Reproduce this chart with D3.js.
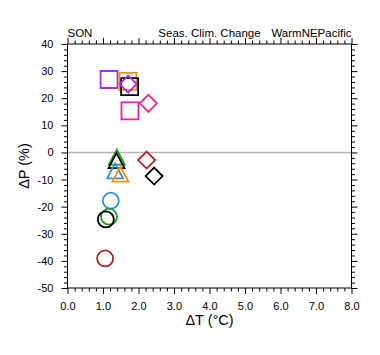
<!DOCTYPE html>
<html><head><meta charset="utf-8">
<script src="https://cdn.jsdelivr.net/npm/d3@7"></script>
<style>body{margin:0;background:#fff;} svg{display:block;font-family:"Liberation Sans",Arial,sans-serif;}</style>
</head><body>
<script>
// Data
const markerShape = ["square","square","square","square","diamond","diamond","diamond","diamond",
                     "triangle","triangle","triangle","triangle","circle","circle","circle","circle"];
const markerColor = ["purple","orange","black","pink","purple","pink","red","black",
                     "green","black","blue","orange","blue","green","black","red"];
const dT = [1.17,1.70,1.75,1.76, 1.71,2.28,2.23,2.44, 1.39,1.38,1.34,1.49, 1.22,1.17,1.08,1.06];
const dP = [26.9,26.2,24.3,15.3, 25.2,18.1,-2.8,-8.7, -1.7,-3.0,-6.8,-8.0, -17.8,-23.7,-24.7,-39.1];
const xTicks = [0,1,2,3,4,5,6,7,8];
const yTicks = [40,30,20,10,0,-10,-20,-30,-40,-50];
const titles = {left:"SON", center:"Seas. Clim. Change", right:"WarmNEPacific"};
const xTitle = "ΔT (°C)";
const yTitle = "ΔP (%)";

const palette = {purple:"#a030f0", orange:"#ff8c00", black:"#000000", pink:"#f0209a",
                 red:"#b22222", green:"#229922", blue:"#2a8ff0"};

const W=380,H=355;
const L=67.5,R=351.5,T=44,B=288;
const x=d3.scaleLinear().domain([0,8]).range([L,R]);
const y=d3.scaleLinear().domain([-50,40]).range([B,T]);

const svg=d3.select("body").append("svg").attr("width",W).attr("height",H);

// zero line
svg.append("line").attr("x1",L).attr("x2",R).attr("y1",y(0)).attr("y2",y(0))
  .attr("stroke","#b4b4b4").attr("stroke-width",1.6);

// ticks
const xMinor=d3.range(0,8.001,0.2).filter(v=>Math.abs(v-Math.round(v))>1e-6);
const yMinor=d3.range(-50,40.001,2).filter(v=>v%10!==0);
function axis(gen,scale,major,minor,tx,ty,labels,pad){
  const g=svg.append("g").attr("transform",`translate(${tx},${ty})`);
  g.call(gen(scale).tickValues(minor).tickSize(3.5).tickFormat("")).call(s=>s.select(".domain").remove());
  const g2=svg.append("g").attr("transform",`translate(${tx},${ty})`);
  g2.call(gen(scale).tickValues(major).tickSize(6).tickPadding(pad||0)
     .tickFormat(labels?labels:""))
    .call(s=>s.select(".domain").remove());
  g2.selectAll("text").attr("font-size",11).attr("fill","#000").attr("font-family","Liberation Sans, Arial, sans-serif");
  [g,g2].forEach(s=>s.selectAll("line").attr("stroke","#000").attr("stroke-width",1));
  return g2;
}
axis(d3.axisBottom,x,xTicks,xMinor,0,B,d=>d.toFixed(1),8);
axis(d3.axisTop,x,xTicks,xMinor,0,T,null);
axis(d3.axisLeft,y,yTicks,yMinor,L,0,d=>d,8);
axis(d3.axisRight,y,yTicks,yMinor,R,0,null);

svg.append("rect").attr("x",L).attr("y",T).attr("width",R-L).attr("height",B-T)
  .attr("fill","none").attr("stroke","#000").attr("stroke-width",1);

// markers
function shapePath(s){
  if(s==="square"){const h=8.5;return `M${-h},${-h}H${h}V${h}H${-h}Z`;}
  if(s==="diamond"){const h=8.5;return `M0,${-h}L${h},0L0,${h}L${-h},0Z`;}
  if(s==="triangle"){return `M0,-7.5L8,7.5L-8,7.5Z`;}
  return null;
}
const pts=dT.map((v,i)=>({x:v,y:dP[i],s:markerShape[i],c:palette[markerColor[i]]}));
pts.forEach(p=>{
  if(p.s==="circle"){
    svg.append("circle").attr("cx",x(p.x)).attr("cy",y(p.y)).attr("r",8)
      .attr("fill","none").attr("stroke",p.c).attr("stroke-width",1.8);
  } else {
    svg.append("path").attr("d",shapePath(p.s)).attr("transform",`translate(${x(p.x)},${y(p.y)})`)
      .attr("fill","none").attr("stroke",p.c).attr("stroke-width",1.8).attr("stroke-linejoin","miter");
  }
});

// titles
svg.append("text").attr("x",L).attr("y",37).attr("font-size",11.5).text(titles.left);
svg.append("text").attr("x",(L+R)/2).attr("y",37).attr("font-size",11.5).attr("text-anchor","middle").text(titles.center);
svg.append("text").attr("x",R).attr("y",37).attr("font-size",11.5).attr("text-anchor","end").text(titles.right);
svg.append("text").attr("x",(L+R)/2).attr("y",325).attr("font-size",14.5).attr("text-anchor","middle").text(xTitle);
svg.append("text").attr("transform",`translate(29,${(T+B)/2}) rotate(-90)`).attr("font-size",14.5)
  .attr("text-anchor","middle").text(yTitle);
</script>
</body></html>
